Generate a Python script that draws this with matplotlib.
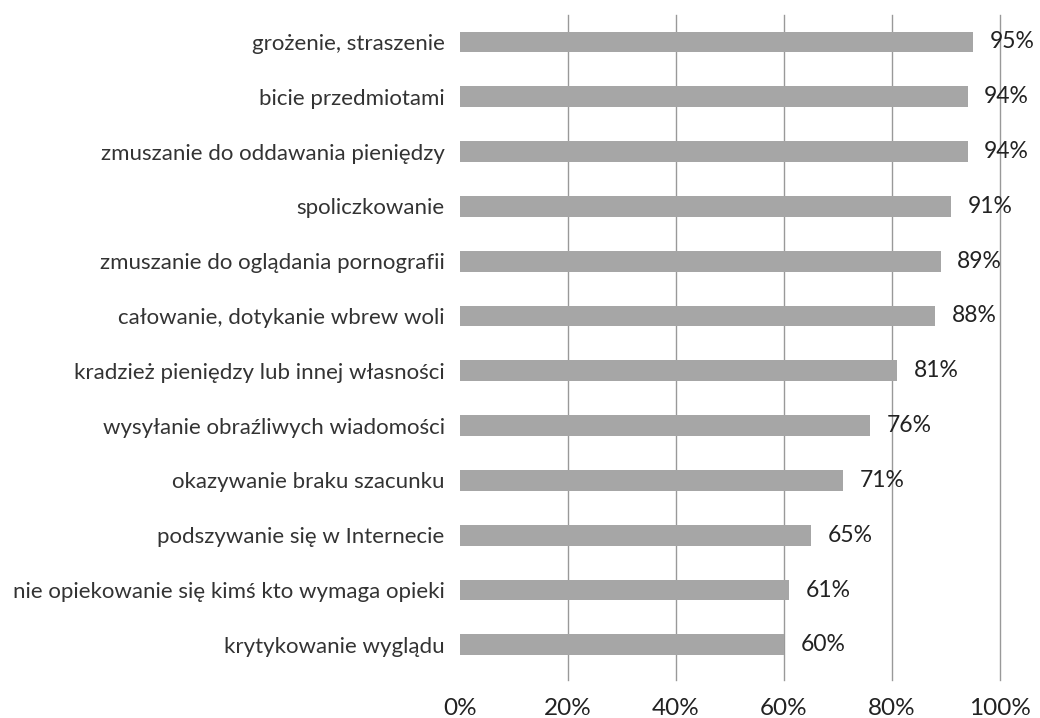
import matplotlib
matplotlib.use("Agg")
import matplotlib.pyplot as plt

# Data (top to bottom)
categories = [
    "grożenie, straszenie",
    "bicie przedmiotami",
    "zmuszanie do oddawania pieniędzy",
    "spoliczkowanie",
    "zmuszanie do oglądania pornografii",
    "całowanie, dotykanie wbrew woli",
    "kradzież pieniędzy lub innej własności",
    "wysyłanie obraźliwych wiadomości",
    "okazywanie braku szacunku",
    "podszywanie się w Internecie",
    "nie opiekowanie się kimś kto wymaga opieki",
    "krytykowanie wyglądu",
]
values = [95, 94, 94, 91, 89, 88, 81, 76, 71, 65, 61, 60]
x_ticks = [0, 20, 40, 60, 80, 100]
x_tick_labels = ["0%", "20%", "40%", "60%", "80%", "100%"]

plt.rcParams['font.family'] = ['Lato', 'DejaVu Sans']

fig = plt.figure(figsize=(10.4, 7.18), dpi=100)
ax = fig.add_axes([0.4423, 0.053, 0.5192, 0.926])

pos = list(range(len(categories)))
ax.barh(pos, values, height=0.38, color='#a6a6a6', zorder=2)

for p, v in zip(pos, values):
    ax.annotate(f"{v}%", xy=(v, p), xytext=(12, 0), textcoords='offset points',
                va='center', ha='left', fontsize=16.5, color='#222222')

ax.set_xlim(0, 100)
ax.set_ylim(len(categories) - 1 + 0.64, -0.49)
ax.set_xticks(x_ticks)
ax.set_xticklabels(x_tick_labels, fontsize=17.5, color='#222222')
ax.set_yticks(pos)
ax.set_yticklabels(categories, fontsize=16, color='#333333')
ax.tick_params(axis='both', length=0)
ax.tick_params(axis='x', pad=13)
ax.tick_params(axis='y', pad=11)

for x in x_ticks[1:]:
    ax.axvline(x, color='#999999', linewidth=1, zorder=1, clip_on=False)

for s in ax.spines.values():
    s.set_visible(False)

fig.savefig("out.png", dpi=100)
